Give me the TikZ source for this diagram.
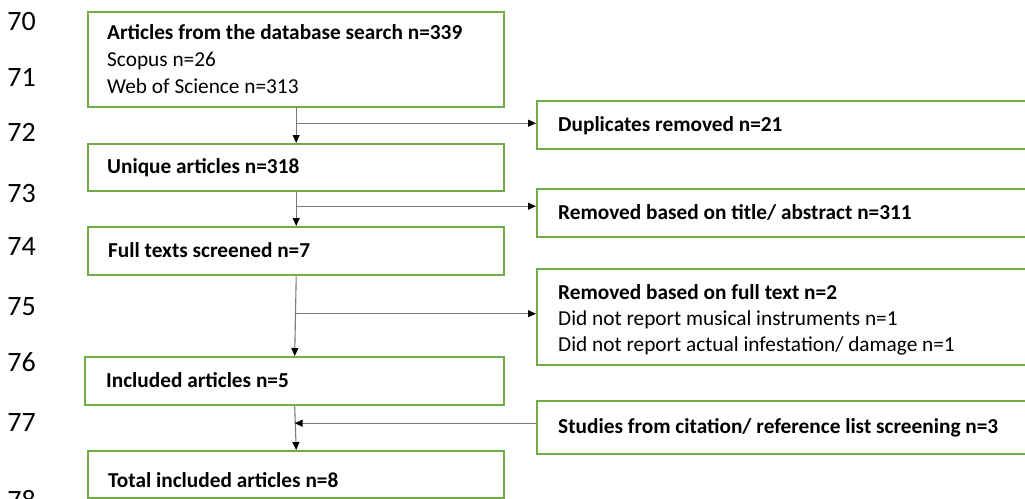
\documentclass[tikz,border=0pt]{standalone}
\usepackage{fontspec}
\setmainfont{Carlito}
\usetikzlibrary{arrows.meta}
\definecolor{boxgreen}{HTML}{70AD47}
\definecolor{linegray}{HTML}{7A7A7A}
\begin{document}
\begin{tikzpicture}[x=1pt,y=-1pt,
  box/.style={draw=boxgreen, line width=2.4pt, inner sep=0pt, anchor=north west},
  txt/.style={anchor=base west, inner sep=0pt, font=\fontsize{21.3}{25}\selectfont},
  btxt/.style={anchor=base west, inner sep=0pt, font=\fontsize{21.3}{25}\selectfont\bfseries},
  num/.style={anchor=center, inner sep=0pt, font=\fontsize{28}{32}\selectfont},
  conn/.style={draw=linegray, line width=1.1pt, -{Triangle[length=8pt,width=7pt,color=black]}}]
\useasboundingbox (0,0) rectangle (1025,498);
\clip (0,0) rectangle (1025,498);
% line numbers
\node[num] (n70) at (21.5,22) {70};
\node[num] (n71) at (21.5,77) {71};
\node[num] (n72) at (21.5,132) {72};
\node[num] (n73) at (21.5,194) {73};
\node[num] (n74) at (21.5,247) {74};
\node[num] (n75) at (21.5,307) {75};
\node[num] (n76) at (21.5,362) {76};
\node[num] (n77) at (21.5,423) {77};
\node[num] (n78) at (21.5,500) {78};
% left boxes
\node[box, minimum width=416pt, minimum height=95pt] (b1) at (87,11) {};
\node[box, minimum width=416pt, minimum height=47pt] (b2) at (87,143) {};
\node[box, minimum width=416pt, minimum height=48pt] (b3) at (87,226) {};
\node[box, minimum width=419pt, minimum height=48pt] (b4) at (84,356) {};
\node[box, minimum width=416pt, minimum height=47pt] (b5) at (87,450) {};
% right boxes
\node[box, minimum width=510pt, minimum height=48pt] (r1) at (536,100) {};
\node[box, minimum width=510pt, minimum height=48pt] (r2) at (536,188) {};
\node[box, minimum width=510pt, minimum height=96pt] (r3) at (536,268) {};
\node[box, minimum width=510pt, minimum height=53pt] (r4) at (536,400) {};
% texts
\node[btxt] (t1a) at (107,39) {Articles from the database search n=339};
\node[txt] (t1b) at (107,66) {Scopus n=26};
\node[txt] (t1c) at (107,93) {Web of Science n=313};
\node[btxt] (t2) at (107,173) {Unique articles n=318};
\node[btxt] (t3) at (108,257) {Full texts screened n=7};
\node[btxt] (t4) at (106,387) {Included articles n=5};
\node[btxt] (t5) at (108,487) {Total included articles n=8};
\node[btxt] (s1) at (558,131) {Duplicates removed n=21};
\node[btxt] (s2) at (558,219) {Removed based on title/ abstract n=311};
\node[btxt] (s3a) at (558,299) {Removed based on full text n=2};
\node[txt] (s3b) at (558,325) {Did not report musical instruments n=1};
\node[txt] (s3c) at (558,351) {Did not report actual infestation/ damage n=1};
\node[btxt] (s4) at (558,433) {Studies from citation/ reference list screening n=3};
% connectors
\draw[conn] (b1.south) -- (b2.north);
\draw[conn] (b2.south) -- (b3.north);
\draw[conn] (b3.south) -- (b4.north);
\draw[conn] (b4.south) -- (b5.north);
\coordinate (a1) at ([yshift=2pt]r1.west);
\coordinate (a2) at ([yshift=7pt]r2.west);
\coordinate (a3) at ([yshift=3.5pt]r3.west);
\coordinate (a4) at ([yshift=4.5pt]r4.west);
\draw[conn] (a1 -| b1.south) -- (a1);
\draw[conn] (a2 -| b2.south) -- (a2);
\draw[conn] (a3 -| b3.south) -- (a3);
\draw[conn] (a4) -- (a4 -| b4.south);
\end{tikzpicture}
\end{document}
